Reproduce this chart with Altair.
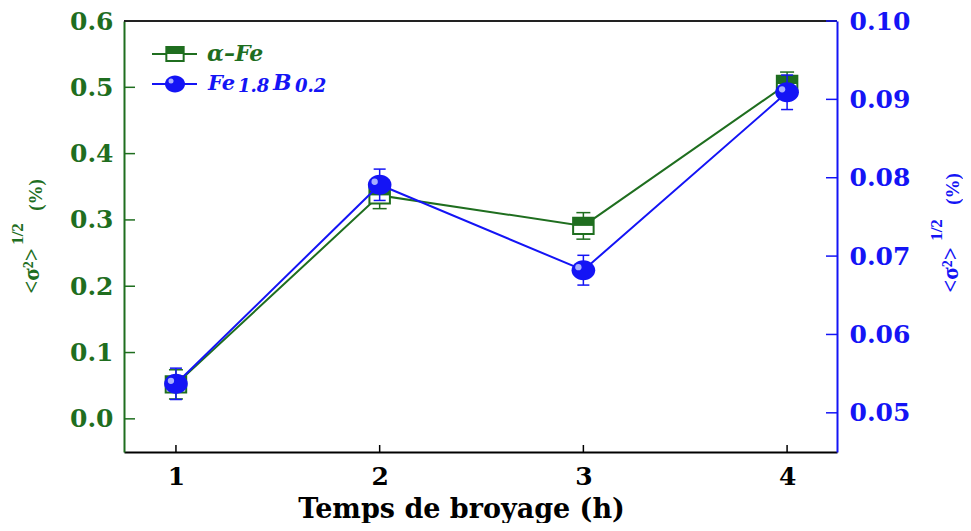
import altair as alt
import pandas as pd

# ---- data ----
hours = [1, 2, 3, 4]
fe_alpha = [0.052, 0.337, 0.291, 0.505]
fe_alpha_err = [0.022, 0.020, 0.020, 0.018]
fe_b = [0.0537, 0.0791, 0.0682, 0.0909]
fe_b_err = [0.0020, 0.0020, 0.0019, 0.0022]

left_ticks = [0.0, 0.1, 0.2, 0.3, 0.4, 0.5, 0.6]
right_ticks = [0.05, 0.06, 0.07, 0.08, 0.09, 0.10]
x_ticks = [1, 2, 3, 4]

GREEN = "#1f6e1f"
BLUE = "#1414f5"
SERIF = "DejaVu Serif"
TSERIF = "Liberation Serif"
W, H = 713, 431

df_a = pd.DataFrame({"h": hours, "v": fe_alpha,
                     "lo": [v - e for v, e in zip(fe_alpha, fe_alpha_err)],
                     "hi": [v + e for v, e in zip(fe_alpha, fe_alpha_err)]})
df_b = pd.DataFrame({"h": hours, "v": fe_b,
                     "lo": [v - e for v, e in zip(fe_b, fe_b_err)],
                     "hi": [v + e for v, e in zip(fe_b, fe_b_err)]})
df_lt = pd.DataFrame({"v": left_ticks})
df_rt = pd.DataFrame({"v": right_ticks})
df_xt = pd.DataFrame({"h": x_ticks})
one = pd.DataFrame({"d": [0]})

xs = alt.Scale(domain=[0.745, 4.245], nice=False, zero=False)
ys_l = alt.Scale(domain=[-0.05, 0.6], nice=False, zero=False)
ys_r = alt.Scale(domain=[0.045, 0.10], nice=False, zero=False)

x_axis = alt.Axis(values=x_ticks, format="d", title="Temps de broyage (h)",
                  domainColor="black", domainWidth=2, ticks=False, grid=False,
                  labelFont=SERIF, labelFontWeight="bold", labelFontSize=25,
                  labelColor="black", labelPadding=12,
                  titleFont=SERIF, titleFontSize=27, titleFontWeight="bold",
                  titleColor="black", titleBaseline="alphabetic",
                  titleX=337, titleY=65, titleAlign="center")
l_axis = alt.Axis(orient="left", values=left_ticks, format=".1f", title="",
                  domainColor=GREEN, domainWidth=2, ticks=False, grid=False,
                  labelFont=SERIF, labelFontWeight="bold", labelFontSize=25,
                  labelColor=GREEN, labelPadding=11)
r_axis = alt.Axis(orient="right", values=right_ticks, format=".2f", title="",
                  domainColor=BLUE, domainWidth=2, ticks=False, grid=False,
                  labelFont=SERIF, labelFontWeight="bold", labelFontSize=25,
                  labelColor=BLUE, labelPadding=12)

XE = alt.X("h:Q", scale=xs, axis=x_axis)


def YL(f):
    return alt.Y(f, type="quantitative", scale=ys_l, axis=l_axis)


def YR(f):
    return alt.Y(f, type="quantitative", scale=ys_r, axis=r_axis)


RECT = "M-1,-0.8L1,-0.8L1,0.8L-1,0.8Z"
RECT_TOP = "M-1,-0.8L1,-0.8L1,0L-1,0Z"
ELL = "M-1,0A1,0.85,0,1,0,1,0A1,0.85,0,1,0,-1,0Z"
CAP = "M-1,0L1,0"


def txt(s, x, y, **kw):
    return alt.Chart(one).mark_text(**kw).encode(
        x=alt.value(x), y=alt.value(y), text=alt.value(s))


# ---- left (alpha-Fe) layer ----
a_line = alt.Chart(df_a).mark_line(color=GREEN, strokeWidth=2).encode(x=XE, y=YL("v"))
a_err = alt.Chart(df_a).mark_rule(color=GREEN, strokeWidth=1.5).encode(
    x=XE, y=YL("lo"), y2="hi:Q")
a_cap_lo = alt.Chart(df_a).mark_point(shape=CAP, size=196, stroke=GREEN, strokeWidth=1.5,
                                      opacity=1).encode(x=XE, y=YL("lo"))
a_cap_hi = alt.Chart(df_a).mark_point(shape=CAP, size=196, stroke=GREEN, strokeWidth=1.5,
                                      opacity=1).encode(x=XE, y=YL("hi"))
a_box = alt.Chart(df_a).mark_point(shape=RECT, size=420, fill="white", stroke=GREEN,
                                   strokeWidth=2, opacity=1).encode(x=XE, y=YL("v"))
a_half = alt.Chart(df_a).mark_point(shape=RECT_TOP, size=420, filled=True, color=GREEN,
                                    opacity=1).encode(x=XE, y=YL("v"))
l_ticks = alt.Chart(df_lt).mark_rule(color=GREEN, strokeWidth=1.5).encode(
    y=YL("v"), x=alt.value(0), x2=alt.value(11))
x_tk = alt.Chart(df_xt).mark_rule(color="black", strokeWidth=1.5).encode(
    x=XE, y=alt.value(H), y2=alt.value(H - 7))
top_line = alt.Chart(one).mark_rule(color="#222222", strokeWidth=2).encode(
    x=alt.value(0), x2=alt.value(W), y=alt.value(0))

# legend
leg = [
    alt.Chart(one).mark_rule(color=GREEN, strokeWidth=2).encode(
        x=alt.value(28), x2=alt.value(73), y=alt.value(33)),
    alt.Chart(one).mark_point(shape=RECT, size=300, fill="white", stroke=GREEN,
                              strokeWidth=2, opacity=1).encode(
        x=alt.value(51), y=alt.value(33)),
    alt.Chart(one).mark_point(shape=RECT_TOP, size=300, filled=True, color=GREEN,
                              opacity=1).encode(x=alt.value(51), y=alt.value(33)),
    txt("α–Fe", 83, 40, font=SERIF, fontStyle="italic", fontWeight="bold",
        fontSize=22, color=GREEN, align="left", baseline="alphabetic"),
    alt.Chart(one).mark_rule(color=BLUE, strokeWidth=2).encode(
        x=alt.value(28), x2=alt.value(73), y=alt.value(63)),
    alt.Chart(one).mark_point(shape=ELL, size=400, filled=True, color=BLUE,
                              opacity=1).encode(x=alt.value(51), y=alt.value(63)),
    alt.Chart(one).mark_point(shape="circle", size=25, filled=True, color="#b8c0ff",
                              opacity=0.9).encode(x=alt.value(47), y=alt.value(60)),
    txt("Fe", 84, 69, font=SERIF, fontStyle="italic", fontWeight="bold",
        fontSize=21, color=BLUE, align="left", baseline="alphabetic"),
    txt("1.8", 114, 71, font=SERIF, fontStyle="italic", fontWeight="bold",
        fontSize=18, color=BLUE, align="left", baseline="alphabetic"),
    txt("B", 149, 69, font=SERIF, fontStyle="italic", fontWeight="bold",
        fontSize=22, color=BLUE, align="left", baseline="alphabetic"),
    txt("0.2", 171, 71, font=SERIF, fontStyle="italic", fontWeight="bold",
        fontSize=18, color=BLUE, align="left", baseline="alphabetic"),
]


# rotated axis titles
def title_parts(color, mx, my, fx, fy, px, py):
    return [
        txt("<σ²>", mx, my, font=TSERIF, fontWeight="bold", fontSize=23, color=color,
            angle=270, align="center", baseline="middle"),
        txt("1/2", fx, fy, font=TSERIF, fontWeight="bold", fontSize=17, color=color,
            angle=270, align="center", baseline="middle"),
        txt("(%)", px, py, font=TSERIF, fontWeight="bold", fontSize=19, color=color,
            angle=270, align="center", baseline="middle"),
    ]


titles = title_parts(GREEN, -92, 250, -106, 213, -88, 174) + \
    title_parts(BLUE, 827, 249, 813, 209, 829, 168)

left = alt.layer(a_line, a_err, a_cap_lo, a_cap_hi, a_box, a_half, l_ticks, x_tk,
                 top_line, *leg, *titles)

# ---- right (Fe1.8B0.2) layer ----
b_line = alt.Chart(df_b).mark_line(color=BLUE, strokeWidth=2).encode(x=XE, y=YR("v"))
b_err = alt.Chart(df_b).mark_rule(color=BLUE, strokeWidth=1.5).encode(
    x=XE, y=YR("lo"), y2="hi:Q")
b_cap_lo = alt.Chart(df_b).mark_point(shape=CAP, size=144, stroke=BLUE, strokeWidth=1.5,
                                      opacity=1).encode(x=XE, y=YR("lo"))
b_cap_hi = alt.Chart(df_b).mark_point(shape=CAP, size=144, stroke=BLUE, strokeWidth=1.5,
                                      opacity=1).encode(x=XE, y=YR("hi"))
b_ball = alt.Chart(df_b).mark_point(shape=ELL, size=560, filled=True, color=BLUE,
                                    opacity=1).encode(x=XE, y=YR("v"))
b_hl = alt.Chart(df_b).mark_point(shape="circle", size=40, filled=True, color="#b8c0ff",
                                  opacity=0.9, xOffset=-5, yOffset=-3).encode(
    x=XE, y=YR("v"))
r_ticks = alt.Chart(df_rt).mark_rule(color=BLUE, strokeWidth=1.5).encode(
    y=YR("v"), x=alt.value(W - 11), x2=alt.value(W))

right = alt.layer(b_line, b_err, b_cap_lo, b_cap_hi, b_ball, b_hl, r_ticks)

chart = alt.layer(left, right).resolve_scale(y="independent").properties(
    width=W, height=H,
    autosize=alt.AutoSizeParams(type="none"),
    padding={"left": 116, "top": 13, "right": 126, "bottom": 71},
).configure_view(stroke=None).configure(background="white")

chart.save("out.html", embed_options={"renderer": "svg", "actions": False})
